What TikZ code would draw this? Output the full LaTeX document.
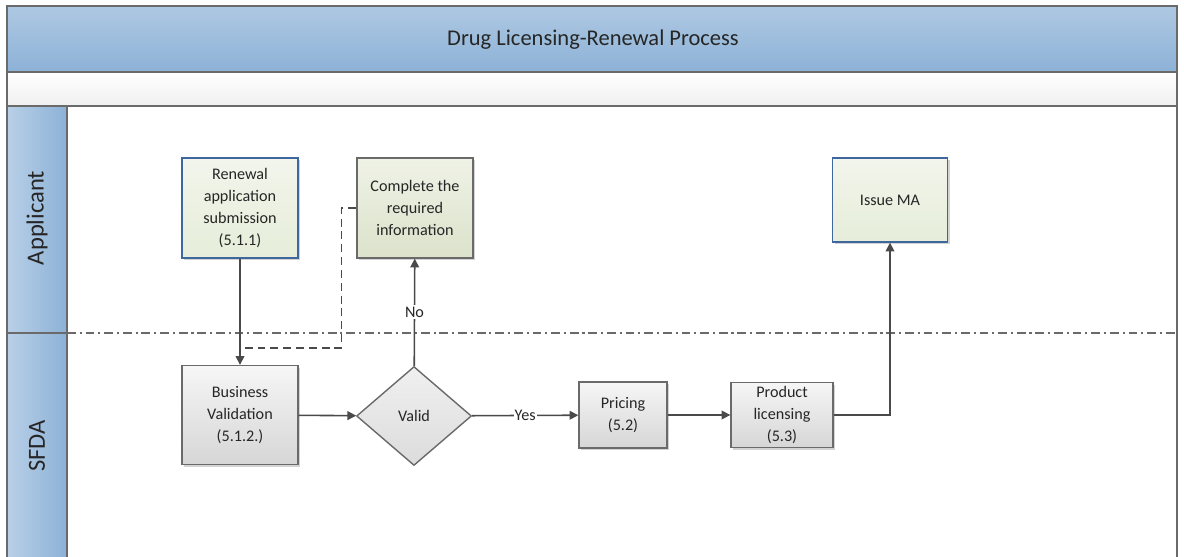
\documentclass[tikz,border=0pt]{standalone}
\usepackage{fontspec}
\setmainfont{Carlito}
\usetikzlibrary{shapes.geometric,shadows,arrows.meta}

\definecolor{bandtop}{HTML}{AEC8E2}
\definecolor{bandbot}{HTML}{8DB2D7}
\definecolor{lanel}{HTML}{B9D0E8}
\definecolor{laner}{HTML}{8CB1D6}
\definecolor{framegray}{HTML}{6A6A6A}
\definecolor{linegray}{HTML}{4A4A4A}
\definecolor{txt}{HTML}{262626}
\definecolor{appblue}{HTML}{3E67A0}
\definecolor{apptop}{HTML}{F2F5EC}
\definecolor{appbot}{HTML}{E6EDD9}
\definecolor{infotop}{HTML}{EFF2E6}
\definecolor{infobot}{HTML}{DCE2CB}
\definecolor{graytop}{HTML}{F6F6F6}
\definecolor{graybot}{HTML}{D6D6D6}
\definecolor{valtop}{HTML}{F0F0F0}
\definecolor{valbot}{HTML}{DCDCDC}

\newcommand{\boxfont}{\fontsize{9.2}{12.6}\selectfont\color{txt}}

\begin{document}
\begin{tikzpicture}[x=0.02cm,y=-0.02cm,>={Triangle[length=5pt,width=5pt]},
  frame/.style={draw=framegray,line width=0.8pt},
  flow/.style={draw=linegray,line width=0.9pt},
  shade box/.style={align=center,font=\boxfont,inner sep=2pt,
    drop shadow={shadow xshift=1.2pt,shadow yshift=-1.2pt,opacity=0.35}},
  appbox/.style={shade box,draw=appblue,line width=0.8pt,top color=apptop,bottom color=appbot},
  infobox/.style={shade box,draw=framegray,line width=0.8pt,top color=infotop,bottom color=infobot},
  task/.style={shade box,draw=framegray,line width=0.8pt,top color=graytop,bottom color=graybot},
  decision/.style={diamond,draw=framegray,line width=0.8pt,top color=valtop,
    bottom color=valbot,font=\boxfont,inner sep=0pt,minimum width=2.3cm,minimum height=1.98cm}]
\useasboundingbox (0,0) rectangle (1184,557);

% pool and lanes
\shade[top color=bandtop,bottom color=bandbot] (7,6) rectangle (1177,72);
\shade[top color=white,bottom color=black!6] (7,72) rectangle (1177,106);
\shade[left color=lanel,right color=laner] (7,106) rectangle (67,557);
\draw[frame] (7,557) -- (7,6) -- (1177,6) -- (1177,557);
\draw[frame] (7,72) -- (1177,72);
\draw[frame] (7,106) -- (1177,106);
\draw[frame] (67,106) -- (67,557);
\draw[frame] (7,333) -- (67,333);
\draw[draw=framegray,line width=0.8pt,dash pattern=on 5pt off 2.2pt on 1.2pt off 2.2pt] (67,333) -- (1177,333);

\node[font=\fontsize{12.8}{15}\selectfont\color{txt}] (T) at (593,40) {Drug Licensing-Renewal Process};
\node[rotate=90,font=\fontsize{14}{16}\selectfont\color{txt}] (LA) at (37,218) {Applicant};
\node[rotate=90,font=\fontsize{14}{16}\selectfont\color{txt}] (LS) at (37,446) {SFDA};

% steps
\node[appbox,minimum width=2.32cm,minimum height=2cm] (R) at (240,208) {Renewal\\application\\submission\\(5.1.1)};
\node[infobox,minimum width=2.32cm,minimum height=2cm] (C) at (415,208) {Complete the\\required\\information};
\node[task,minimum width=2.32cm,minimum height=1.98cm] (B) at (240,415) {Business\\Validation\\(5.1.2.)};
\node[decision] (V) at (414,416) {Valid};
\node[task,minimum width=1.76cm,minimum height=1.32cm] (P) at (623,415) {Pricing\\(5.2)};
\node[task,minimum width=2.04cm,minimum height=1.3cm] (L) at (782,415) {Product\\licensing\\(5.3)};
\node[appbox,minimum width=2.3cm,minimum height=1.68cm] (M) at (890,200) {Issue MA};

\coordinate (J) at (240,348);

\draw[flow,->] (R) -- (B);
\draw[flow,dash pattern=on 4.5pt off 2.8pt] (C.west) -- ++(-15,0) |- (J);
\draw[flow,->] (B) -- (V);
\draw[flow,->] (V) -- node[fill=white,inner sep=1pt,font=\boxfont] {No} (C);
\draw[flow,->] (V) -- node[fill=white,inner sep=0.5pt,font=\boxfont] {Yes} (P);
\draw[flow,->] (P) -- (L);
\draw[flow,->] (L.east) -| (M.south);

\end{tikzpicture}
\end{document}
